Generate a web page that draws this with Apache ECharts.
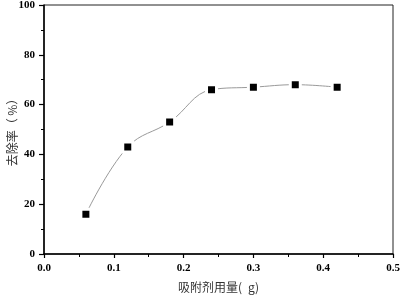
<!DOCTYPE html>
<html>
<head>
<meta charset="utf-8">
<script src="https://cdn.jsdelivr.net/npm/echarts@6/dist/echarts.min.js"></script>
<style>
html,body{margin:0;padding:0;background:#fff;}
#main{width:400px;height:299px;}
</style>
</head>
<body>
<div id="main"></div>
<script>
// 吸附剂用量 (g) vs 去除率 (%)
var dosage = [0.06, 0.12, 0.18, 0.24, 0.30, 0.36, 0.42];
var removal = [16, 43, 53, 66, 67, 68, 67];
var xTicks = [0, 0.1, 0.2, 0.3, 0.4, 0.5];
var yTicks = [0, 20, 40, 60, 80, 100];

var myChart = echarts.init(document.getElementById('main'));

var pts = [];
for(var i=0;i<dosage.length;++i){
	pts[i] = [dosage[i], removal[i]];
}

var labelFont = {
	color: '#000',
	fontFamily: 'Liberation Serif',
	fontWeight: 'bold',
	fontSize: 11
};

option = {
	animation: false,
	backgroundColor: '#fff',
	grid: {
		left: 44,
		top: 5,
		right: 7,
		bottom: 45,
		outerBoundsMode: 'none',
		containLabel: false,
		show: true,
		borderColor: '#222',
		borderWidth: 1
	},
	xAxis: {
		type: 'value',
		min: xTicks[0],
		max: xTicks[xTicks.length-1],
		interval: 0.1,
		name: '吸附剂用量(\u2002g)',
		nameLocation: 'middle',
		nameGap: 27,
		nameMoveOverlap: false,
		nameTextStyle: {
			fontFamily: 'Noto Sans CJK SC',
			fontSize: 12,
			color: '#333'
		},
		axisLine: { lineStyle: { color: '#000', width: 1.5 } },
		axisTick: { inside: false, length: 4, lineStyle: { color: '#000', width: 1.2 } },
		minorTick: { show: true, splitNumber: 2, length: 3, lineStyle: { color: '#000', width: 1 } },
		splitLine: { show: false },
		axisLabel: {
			margin: 9,
			color: labelFont.color,
			fontFamily: labelFont.fontFamily,
			fontWeight: labelFont.fontWeight,
			fontSize: labelFont.fontSize,
			formatter: function(v){ return v.toFixed(1); }
		}
	},
	yAxis: {
		type: 'value',
		min: yTicks[0],
		max: yTicks[yTicks.length-1],
		interval: 20,
		name: '去除率（ %）',
		nameLocation: 'middle',
		nameGap: 26,
		nameMoveOverlap: false,
		nameTextStyle: {
			fontFamily: 'Noto Sans CJK SC',
			fontSize: 12,
			color: '#333'
		},
		axisLine: { show: true, lineStyle: { color: '#000', width: 1.5 } },
		axisTick: { show: true, inside: false, length: 5, lineStyle: { color: '#000', width: 1.2 } },
		minorTick: { show: true, splitNumber: 2, length: 3, lineStyle: { color: '#000', width: 1 } },
		splitLine: { show: false },
		axisLabel: {
			margin: 9,
			color: labelFont.color,
			fontFamily: labelFont.fontFamily,
			fontWeight: labelFont.fontWeight,
			fontSize: labelFont.fontSize
		}
	},
	series: [
		{
			type: 'line',
			data: pts,
			smooth: 0.4,
			symbol: 'rect',
			symbolSize: 10,
			showAllSymbol: true,
			lineStyle: { color: '#9a9a9a', width: 1 },
			itemStyle: { color: '#000', borderColor: '#fff', borderWidth: 3 }
		}
	]
};

myChart.setOption(option);
</script>
</body>
</html>
